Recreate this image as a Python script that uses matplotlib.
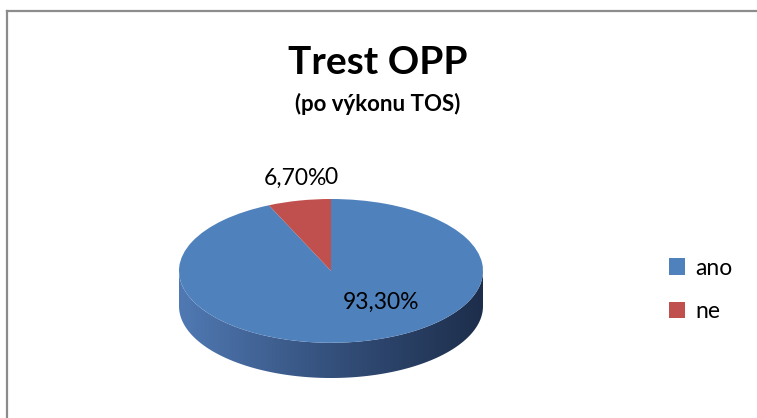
import numpy as np
import matplotlib
matplotlib.use("Agg")
import matplotlib.pyplot as plt
from matplotlib.path import Path
from matplotlib.patches import PathPatch
from matplotlib.colors import LinearSegmentedColormap
from matplotlib.lines import Line2D

plt.rcParams['font.family'] = ['Lato', 'DejaVu Sans']

categories = ["ano", "ne"]
values = [93.3, 6.7]
value_labels = ["93,30%", "6,70%"]
colors = ["#4F81BD", "#C0504D"]

W, H = 757, 418
fig = plt.figure(figsize=(W / 100, H / 100), dpi=100)


def fx(px):
    return px / W


def fy(py):
    return 1 - py / H


# pie area: top face 179..483 x 199..343, side down to ~378
depth = 0.49
ax = fig.add_axes([fx(179), fy(378), fx(483) - fx(179), fy(199) - fy(378)])
wedges, _ = ax.pie(values, colors=colors, startangle=90, counterclock=False,
                   wedgeprops=dict(linewidth=0))
ax.set_aspect('auto')
ax.axis('off')
for w in wedges:
    w.set_zorder(3)

# side of the 3D disc with a horizontal gradient
th = np.linspace(np.pi, 2 * np.pi, 200)
top = np.column_stack([np.cos(th), np.sin(th)])
bot = np.column_stack([np.cos(th[::-1]), np.sin(th[::-1]) - depth])
verts = np.vstack([top, bot, top[:1]])
codes = [Path.MOVETO] + [Path.LINETO] * (len(verts) - 2) + [Path.CLOSEPOLY]
side = PathPatch(Path(verts, codes), facecolor='none', edgecolor='none')
ax.add_patch(side)
cmap = LinearSegmentedColormap.from_list("side", ["#5079b3", "#34507c", "#1d2e4b"])
grad = np.linspace(0, 1, 256).reshape(1, -1)
im = ax.imshow(grad, cmap=cmap, extent=[-1, 1, -1 - depth, 0], aspect='auto', zorder=2)
im.set_clip_path(side)
ax.set_xlim(-1.0, 1.0)
ax.set_ylim(-1 - depth, 1.0)

# data labels
fig.text(fx(381), fy(302), value_labels[0], fontsize=16.5, ha='center', va='center', color='black')
fig.text(fx(295), fy(178), value_labels[1], fontsize=16.5, ha='center', va='center', color='black')
fig.text(fx(331), fy(178), "0", fontsize=16.5, ha='center', va='center', color='black')

# titles
fig.text(fx(378), fy(62), "Trest OPP", fontsize=28, fontweight='bold', ha='center', va='center')
fig.text(fx(378), fy(104), "(po výkonu TOS)", fontsize=16, fontweight='bold', ha='center', va='center')

# legend
fig.legend(wedges, categories, loc='center left', bbox_to_anchor=(fx(669), fy(290)),
           frameon=False, fontsize=16.5, handlelength=0.7, handleheight=0.7,
           handletextpad=0.45, labelspacing=1.0, borderpad=0, borderaxespad=0)

# chart border (left and top visible)
fig.add_artist(Line2D([fx(7), fx(7)], [0, fy(11)], color='#8c8c8c', lw=1.6))
fig.add_artist(Line2D([fx(7), 1], [fy(11), fy(11)], color='#8c8c8c', lw=1.6))

fig.savefig("out.png", dpi=100)
